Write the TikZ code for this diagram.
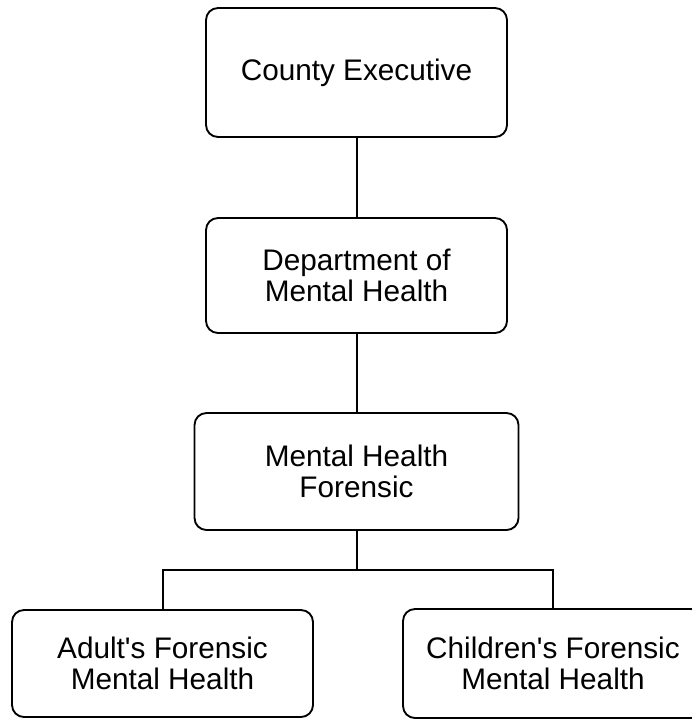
\documentclass[tikz,border=0pt]{standalone}
\usepackage{fontspec}
\setmainfont{Liberation Sans}
\begin{document}
\begin{tikzpicture}[x=0.75pt,y=-0.75pt,
  orgbox/.style 2 args={draw, line width=1.4pt, rounded corners=9pt,
    inner sep=0pt, align=center,
    minimum width=#1*0.75pt, minimum height=#2*0.75pt,
    font=\fontsize{22.3pt}{23.4pt}\selectfont},
  link/.style={line width=1.5pt}]
  % page frame
  \useasboundingbox (0,0) rectangle (692,721);
  \clip (0,0) rectangle (692,721);

  % units of the chart
  \node[orgbox={301}{129}] (ce)    at (356.5,72.5)  {County Executive};
  \node[orgbox={301}{115}] (dmh)   at (356.5,275.5) {Department of\\Mental Health};
  \node[orgbox={324}{117}] (mhf)   at (356.5,471.5) {Mental Health\\Forensic};
  \node[orgbox={301}{107}] (adult) at (162.5,663.5) {Adult\textquotesingle s Forensic\\Mental Health};
  \node[orgbox={300}{109}] (child) at (553,663.5)   {Children\textquotesingle s Forensic\\Mental Health};

  % reporting lines
  \coordinate (split) at (356.5,570);
  \draw[link] (ce.south) -- (dmh.north);
  \draw[link] (dmh.south) -- (mhf.north);
  \draw[link] (mhf.south) -- (split);
  \draw[link] (adult.north) |- (split) -| (child.north);
\end{tikzpicture}
\end{document}
